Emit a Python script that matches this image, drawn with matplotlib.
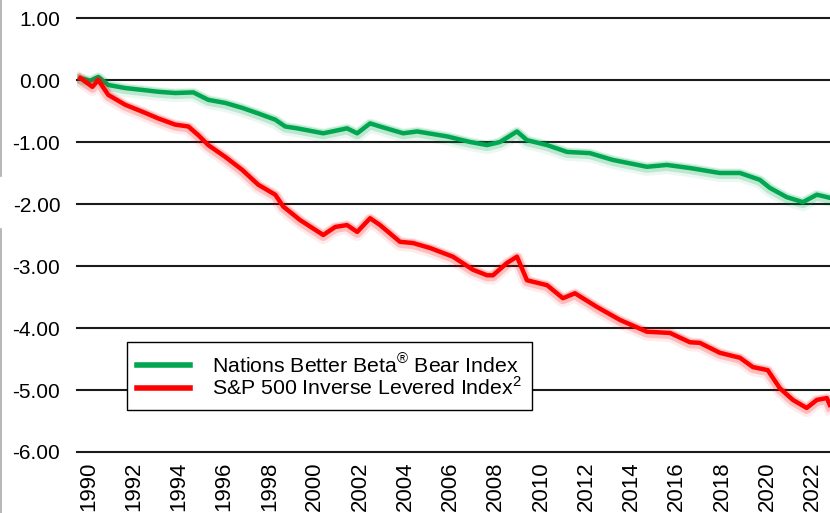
import numpy as np
import matplotlib
matplotlib.use("Agg")
import matplotlib.pyplot as plt
import matplotlib.patheffects as pe
from matplotlib.lines import Line2D

plt.rcParams['font.family'] = ['Liberation Sans', 'DejaVu Sans']
plt.rcParams['mathtext.fontset'] = 'custom'
plt.rcParams['mathtext.rm'] = 'Liberation Sans'

## DATA ##########################################################################

bear_years = [1989.65, 1990.09, 1990.44, 1990.88, 1991.63, 1992.38, 1993.09, 1993.84,
              1994.64, 1995.30, 1996.05, 1996.80, 1997.51, 1998.26, 1998.70, 1999.23,
              2000.38, 2001.43, 2001.88, 2002.45, 2002.89, 2003.91, 2004.53, 2005.85,
              2006.87, 2007.62, 2008.19, 2008.94, 2009.38, 2010.27, 2011.15, 2012.16,
              2013.18, 2014.68, 2015.56, 2016.58, 2017.90, 2018.79, 2019.67, 2020.11,
              2020.86, 2021.57, 2022.19, 2022.76]
bear_values = [0.03, -0.01, 0.05, -0.08, -0.13, -0.16, -0.19, -0.21,
               -0.20, -0.32, -0.37, -0.45, -0.54, -0.64, -0.75, -0.78,
               -0.86, -0.78, -0.86, -0.70, -0.75, -0.86, -0.83, -0.91,
               -1.00, -1.05, -1.00, -0.83, -0.97, -1.05, -1.16, -1.18,
               -1.29, -1.40, -1.37, -1.42, -1.50, -1.50, -1.61, -1.74,
               -1.89, -1.97, -1.85, -1.90]

inverse_years = [1989.65, 1990.18, 1990.44, 1990.88, 1991.63, 1992.38, 1993.09, 1993.84,
                 1994.42, 1994.86, 1995.30, 1996.05, 1996.80, 1997.51, 1998.26, 1998.61,
                 1999.36, 2000.38, 2000.91, 2001.43, 2001.88, 2002.45, 2002.89, 2003.77,
                 2004.35, 2005.10, 2006.11, 2006.99, 2007.62, 2007.88, 2008.50, 2008.94,
                 2009.38, 2010.27, 2010.97, 2011.50, 2012.47, 2013.49, 2014.68, 2015.70,
                 2016.58, 2017.02, 2017.90, 2018.79, 2019.36, 2020.02, 2020.55, 2021.13,
                 2021.74, 2022.19, 2022.63, 2022.76]
inverse_values = [0.03, -0.11, 0.00, -0.24, -0.40, -0.51, -0.62, -0.72,
                  -0.75, -0.89, -1.05, -1.24, -1.45, -1.69, -1.85, -2.04,
                  -2.26, -2.50, -2.37, -2.34, -2.45, -2.23, -2.34, -2.61,
                  -2.63, -2.71, -2.85, -3.06, -3.15, -3.15, -2.95, -2.85,
                  -3.23, -3.31, -3.52, -3.44, -3.66, -3.87, -4.06, -4.08,
                  -4.23, -4.24, -4.40, -4.48, -4.63, -4.68, -4.97, -5.16,
                  -5.29, -5.16, -5.13, -5.24]

x_ticks = list(range(1990, 2023, 2))
y_ticks = [1, 0, -1, -2, -3, -4, -5, -6]

bear_label = r'Nations Better Beta$^{\mathrm{®}}$ Bear Index'
inverse_label = r'S&P 500 Inverse Levered Index$^{\mathrm{2}}$'

## PLOT ##########################################################################

fig = plt.figure(figsize=(8.3, 5.13), dpi=100)
ax = fig.add_axes([77 / 830, 61 / 513, 753 / 830, 434 / 513])

green = '#00A650'
red = '#FF0000'

def glow(color):
    # soft blurred halo around the line, a bit heavier below it
    return [pe.Stroke(linewidth=10, foreground=color, alpha=0.08, offset=(0, -1.5)),
            pe.Stroke(linewidth=7, foreground=color, alpha=0.2, offset=(0, -0.8)),
            pe.Normal()]

ax.plot(bear_years, bear_values, color=green, lw=3.2, label=bear_label,
        path_effects=glow(green), solid_joinstyle='round', zorder=3)
ax.plot(inverse_years, inverse_values, color=red, lw=3.2, label=inverse_label,
        path_effects=glow(red), solid_joinstyle='round', zorder=3)

ax.set_xlim(1989.5, 2022.77)
ax.set_ylim(-6, 1)
ax.set_yticks(y_ticks)
ax.set_yticklabels([f"{v:.2f}" for v in y_ticks], fontsize=15)
ax.set_xticks(x_ticks)
ax.set_xticklabels([str(v) for v in x_ticks], rotation=90, fontsize=16)
ax.tick_params(axis='both', length=0)
ax.tick_params(axis='y', pad=12)
ax.tick_params(axis='x', pad=7)

for v in y_ticks:
    ax.axhline(v, color='#1a1a1a', lw=1.5, zorder=1, clip_on=False)

for s in ax.spines.values():
    s.set_visible(False)

leg = ax.legend(loc='lower left', bbox_to_anchor=(0.066, 0.097), borderaxespad=0,
                fontsize=15.3, frameon=True, fancybox=False, framealpha=1,
                edgecolor='black', handlelength=2.5, handletextpad=1.0,
                labelspacing=0.02, borderpad=0.5)
leg.get_frame().set_linewidth(1.0)
for h in leg.get_lines():
    h.set_path_effects([])
    h.set_linewidth(4)

# thin grey border at the left edge of the image
fig.add_artist(Line2D([0.6 / 830, 0.6 / 830], [1, 1 - 176 / 513], transform=fig.transFigure,
                      color='#aaaaaa', lw=1.2))
fig.add_artist(Line2D([0.6 / 830, 0.6 / 830], [1 - 229 / 513, 0], transform=fig.transFigure,
                      color='#aaaaaa', lw=1.2))

fig.savefig('out.png', dpi=100)
